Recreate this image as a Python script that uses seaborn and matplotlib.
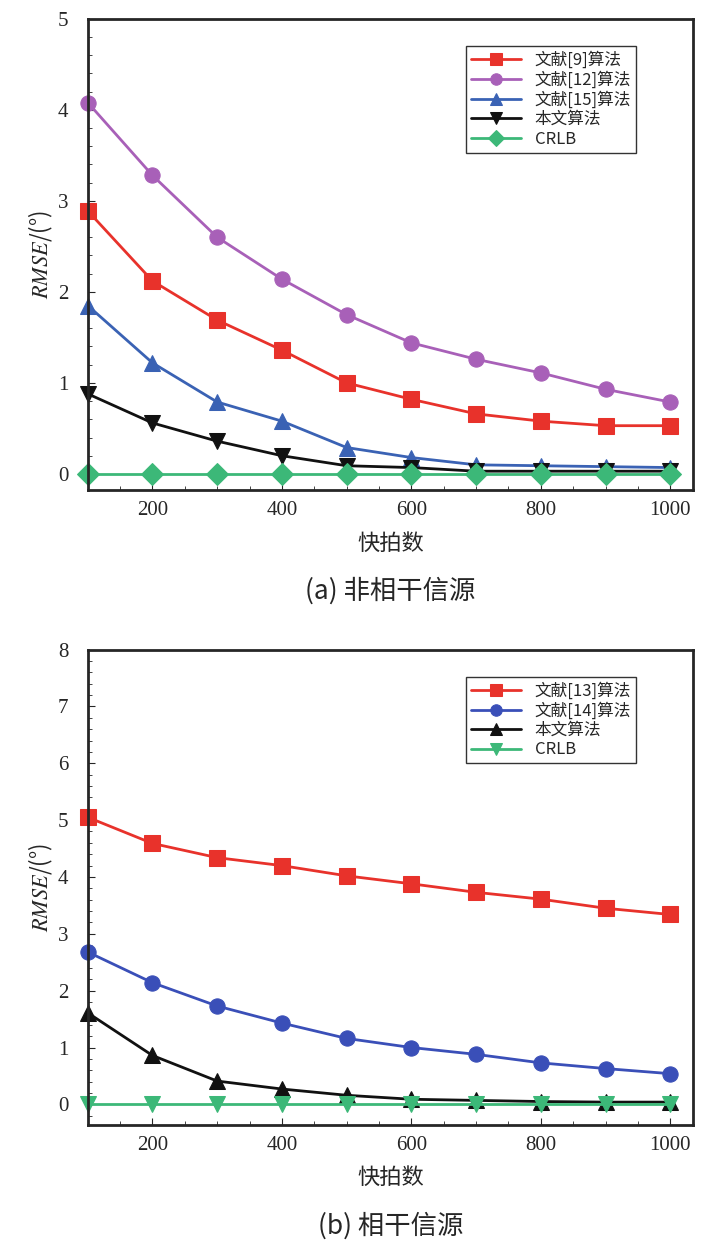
import numpy as np
import pandas as pd
import matplotlib
matplotlib.use("Agg")
import matplotlib.pyplot as plt
import seaborn as sns

snapshots = [100, 200, 300, 400, 500, 600, 700, 800, 900, 1000]

# (a) incoherent sources
labels_a = ["文献[9]算法", "文献[12]算法", "文献[15]算法", "本文算法", "CRLB"]
ref9 = [2.89, 2.12, 1.69, 1.36, 1.00, 0.82, 0.66, 0.58, 0.53, 0.53]
ref12 = [4.08, 3.28, 2.60, 2.14, 1.75, 1.44, 1.26, 1.11, 0.93, 0.79]
ref15 = [1.85, 1.22, 0.79, 0.58, 0.29, 0.18, 0.10, 0.09, 0.08, 0.07]
ours_a = [0.88, 0.56, 0.36, 0.20, 0.09, 0.07, 0.03, 0.03, 0.03, 0.03]
crlb_a = [0.0] * 10

# (b) coherent sources
labels_b = ["文献[13]算法", "文献[14]算法", "本文算法", "CRLB"]
ref13 = [5.05, 4.59, 4.34, 4.20, 4.02, 3.88, 3.73, 3.61, 3.45, 3.34]
ref14 = [2.68, 2.14, 1.73, 1.43, 1.16, 1.00, 0.88, 0.73, 0.63, 0.54]
ours_b = [1.61, 0.86, 0.41, 0.27, 0.16, 0.09, 0.07, 0.05, 0.04, 0.04]
crlb_b = [0.0] * 10

sns.set_style("ticks")
plt.rcParams['font.family'] = ['Noto Sans CJK SC', 'DejaVu Sans']
plt.rcParams['mathtext.fontset'] = 'stix'

fig = plt.figure(figsize=(7.02, 12.54), dpi=100)
ax_a = fig.add_axes([0.125, 0.609, 0.862, 0.376])
ax_b = fig.add_axes([0.125, 0.103, 0.862, 0.379])


def panel(ax, labels, series, colors, markers, ylim, yticks, caption):
    df = pd.DataFrame({
        "x": snapshots * len(series),
        "y": np.concatenate(series),
        "method": np.repeat(labels, len(snapshots)),
    })
    sns.lineplot(data=df, x="x", y="y", hue="method", style="method",
                 hue_order=labels, style_order=labels,
                 palette=dict(zip(labels, colors)),
                 markers=dict(zip(labels, markers)), dashes=False,
                 markersize=11, linewidth=2, ax=ax, clip_on=False)
    for line in ax.lines:
        line.set_markeredgecolor(line.get_color())
    ax.set_xlim(100, 1035)
    ax.set_ylim(*ylim)
    ax.set_xticks([200, 400, 600, 800, 1000])
    ax.set_yticks(yticks)
    ax.minorticks_on()
    ax.tick_params(direction="in", which="both", labelsize=15, length=5)
    ax.tick_params(axis="y", pad=14)
    ax.tick_params(axis="x", pad=8)
    ax.tick_params(which="minor", length=3)
    for lab in ax.get_xticklabels() + ax.get_yticklabels():
        lab.set_family("Liberation Serif")
    for s in ax.spines.values():
        s.set_linewidth(2)
    ax.set_xlabel("快拍数", fontsize=16, labelpad=8)
    ax.set_ylabel("$RMSE$/(°)", fontsize=16, labelpad=2)
    leg = ax.legend(loc="upper right", fontsize=12, frameon=True,
                    fancybox=False, edgecolor="black", borderpad=0.3,
                    labelspacing=0.15, handlelength=3, markerscale=0.75,
                    bbox_to_anchor=(0.92, 0.96))
    leg.get_frame().set_linewidth(1)
    ax.text(0.5, -0.23, caption, transform=ax.transAxes, ha="center",
            fontsize=19, family=["Noto Sans CJK SC"])


panel(ax_a, labels_a, [ref9, ref12, ref15, ours_a, crlb_a],
      ["#e8322b", "#a860b8", "#3a62b4", "#111111", "#3cb878"],
      ["s", "o", "^", "v", "D"], (-0.18, 5), [0, 1, 2, 3, 4, 5],
      "(a) 非相干信源")
panel(ax_b, labels_b, [ref13, ref14, ours_b, crlb_b],
      ["#e8322b", "#3a4fb8", "#111111", "#3cb878"],
      ["s", "o", "^", "v"], (-0.36, 8), [0, 1, 2, 3, 4, 5, 6, 7, 8],
      "(b) 相干信源")

fig.savefig("out.png", dpi=100)
